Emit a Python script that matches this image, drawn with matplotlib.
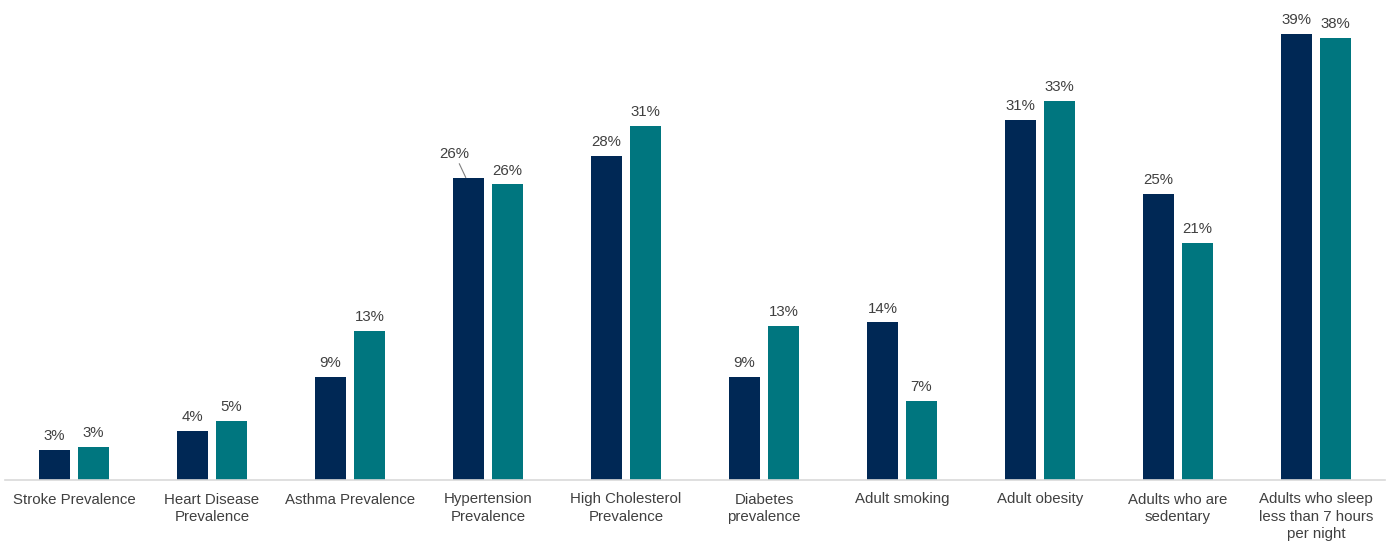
import numpy as np
import matplotlib.pyplot as plt

plt.rcParams['font.family'] = ['Liberation Sans', 'DejaVu Sans']

categories = ['Stroke Prevalence', 'Heart Disease\nPrevalence', 'Asthma Prevalence',
              'Hypertension\nPrevalence', 'High Cholesterol\nPrevalence', 'Diabetes\nprevalence',
              'Adult smoking', 'Adult obesity', 'Adults who are\nsedentary',
              'Adults who sleep\nless than 7 hours\nper night']
series_a = [2.6, 4.3, 9.0, 26.3, 28.2, 9.0, 13.7, 31.3, 24.9, 38.8]
series_b = [2.9, 5.1, 13.0, 25.7, 30.8, 13.4, 6.9, 33.0, 20.6, 38.4]
labels_a = ['3%', '4%', '9%', '26%', '28%', '9%', '14%', '31%', '25%', '39%']
labels_b = ['3%', '5%', '13%', '26%', '31%', '13%', '7%', '33%', '21%', '38%']

dark = '#002855'
teal = '#00767F'
text_col = '#404040'

fig = plt.figure(figsize=(13.9, 5.42), dpi=100)
ax = fig.add_axes([5 / 1390, 62 / 542, 1380 / 1390, 480 / 542])

x = np.arange(len(categories))
w = 0.225
off = 0.141
bars_a = ax.bar(x - off, series_a, w, color=dark)
bars_b = ax.bar(x + off, series_b, w, color=teal)

fs = 10.8
for i, (b, lab) in enumerate(zip(bars_a, labels_a)):
    cx = b.get_x() + b.get_width() / 2
    if i == 3:
        # label pushed left with a leader line
        ax.annotate(lab, xy=(cx - 0.02, b.get_height()), xytext=(-8, 12),
                    textcoords='offset points', ha='center', va='bottom',
                    fontsize=fs, color=text_col,
                    arrowprops=dict(arrowstyle='-', color='#808080', lw=0.8,
                                    shrinkA=0, shrinkB=0))
    else:
        ax.annotate(lab, (cx, b.get_height()), xytext=(0, 5), textcoords='offset points',
                    ha='center', va='bottom', fontsize=fs, color=text_col)
for b, lab in zip(bars_b, labels_b):
    cx = b.get_x() + b.get_width() / 2
    ax.annotate(lab, (cx, b.get_height()), xytext=(0, 5), textcoords='offset points',
                ha='center', va='bottom', fontsize=fs, color=text_col)

ax.set_xlim(-0.5, len(categories) - 0.5)
ax.set_ylim(0, 480 / 11.5)
ax.set_xticks(x)
ax.set_xticklabels(categories, fontsize=fs, color=text_col, linespacing=1.3)
ax.tick_params(axis='x', length=0, pad=9)
ax.set_yticks([])
for s in ['top', 'right', 'left']:
    ax.spines[s].set_visible(False)
ax.spines['bottom'].set_color('#d9d9d9')
ax.spines['bottom'].set_linewidth(1.2)

fig.savefig('out.png', dpi=100)
